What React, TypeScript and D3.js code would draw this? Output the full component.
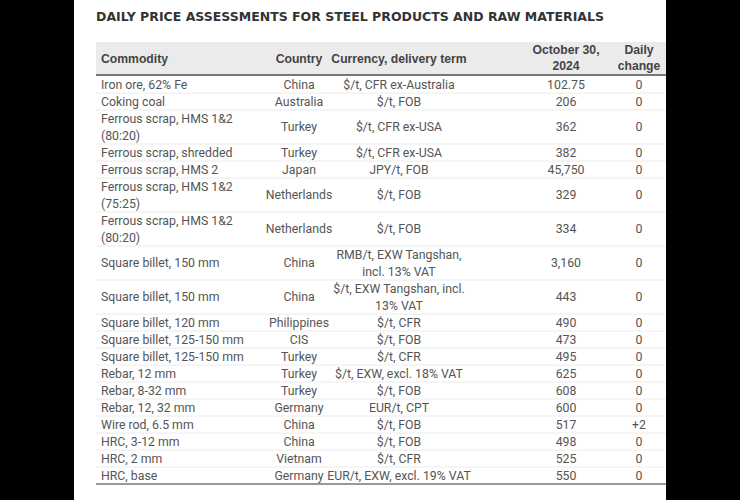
import React from 'react'
import { scaleLinear, sum, cumsum } from 'd3'

const commodities = [
  'Iron ore, 62% Fe', 'Coking coal', 'Ferrous scrap, HMS 1&2\n(80:20)', 'Ferrous scrap, shredded',
  'Ferrous scrap, HMS 2', 'Ferrous scrap, HMS 1&2\n(75:25)', 'Ferrous scrap, HMS 1&2\n(80:20)',
  'Square billet, 150 mm', 'Square billet, 150 mm', 'Square billet, 120 mm', 'Square billet, 125-150 mm',
  'Square billet, 125-150 mm', 'Rebar, 12 mm', 'Rebar, 8-32 mm', 'Rebar, 12, 32 mm', 'Wire rod, 6.5 mm',
  'HRC, 3-12 mm', 'HRC, 2 mm', 'HRC, base',
]
const countries = [
  'China', 'Australia', 'Turkey', 'Turkey', 'Japan', 'Netherlands', 'Netherlands', 'China', 'China',
  'Philippines', 'CIS', 'Turkey', 'Turkey', 'Turkey', 'Germany', 'China', 'China', 'Vietnam', 'Germany',
]
const terms = [
  '$/t, CFR ex-Australia', '$/t, FOB', '$/t, CFR ex-USA', '$/t, CFR ex-USA', 'JPY/t, FOB', '$/t, FOB',
  '$/t, FOB', 'RMB/t, EXW Tangshan,\nincl. 13% VAT', '$/t, EXW Tangshan, incl.\n13% VAT', '$/t, CFR',
  '$/t, FOB', '$/t, CFR', '$/t, EXW, excl. 18% VAT', '$/t, FOB', 'EUR/t, CPT', '$/t, FOB', '$/t, FOB',
  '$/t, CFR', 'EUR/t, EXW, excl. 19% VAT',
]
const prices = [
  '102.75', '206', '362', '382', '45,750', '329', '334', '3,160', '443', '490', '473', '495', '625',
  '608', '600', '517', '498', '525', '550',
]
const changes = ['0', '0', '0', '0', '0', '0', '0', '0', '0', '0', '0', '0', '0', '0', '0', '+2', '0', '0', '0']
const headers = ['Commodity', 'Country', 'Currency, delivery term', 'October 30,\n2024', 'Daily\nchange']
const title = 'DAILY PRICE ASSESSMENTS FOR STEEL PRODUCTS AND RAW MATERIALS'

const W = 740, H = 500
const left = 74, right = 666
const tableTop = 42, headBottom = 76, tableBottom = 484
const font = 'Roboto, "Liberation Sans", sans-serif'
const headFont = '"Liberation Sans", Arial, sans-serif'
const textColor = '#555'

// columns: x position and anchor
const cols = [
  { x: 101, anchor: 'start' },
  { x: 299, anchor: 'middle' },
  { x: 399, anchor: 'middle' },
  { x: 566, anchor: 'middle' },
  { x: 639, anchor: 'middle' },
]

function Cell({ text, x, y, anchor, weight = 'normal', lh = 16.5, color = textColor, size = 12.3, family = font }) {
  const lines = text.split('\n')
  const off = (lines.length - 1) * lh / 2
  return (
    <text x={x} textAnchor={anchor} fontWeight={weight} fontFamily={family} fontSize={size} fill={color}>
      {lines.map((l, i) => (
        <tspan key={i} x={x} y={y - off + i * lh} dy="0.35em">{l}</tspan>
      ))}
    </text>
  )
}

export default function App() {
  const rows = commodities.map((c, i) => ({
    cells: [c, countries[i], terms[i], prices[i], changes[i]],
    units: Math.max(...[c, terms[i]].map(s => s.split('\n').length)),
  }))
  const units = rows.map(r => r.units)
  const ends = Array.from(cumsum(units))
  const y = scaleLinear().domain([0, sum(units)]).range([headBottom, tableBottom])

  return (
    <svg width={W} height={H} style={{ position: 'absolute', left: 0, top: 0 }}>
      <rect width={W} height={H} fill="#000" />
      <rect x={left} width={right - left} height={H} fill="#fff" />
      <text x={96} y={21} fontFamily='"DejaVu Sans", Verdana, sans-serif' fontWeight="bold" fontSize={12.5}
        fill="#333" textLength={508} lengthAdjust="spacingAndGlyphs">{title}</text>
      <rect x={96} y={tableTop} width={right - 96} height={headBottom - tableTop} fill="#ebebeb" />
      {headers.map((h, j) => (
        <Cell key={j} text={h} x={cols[j].x} y={j < 3 ? 59 : 58} anchor={cols[j].anchor}
          weight="bold" lh={16} color="#444" size={12.2} family={headFont} />
      ))}
      {rows.map((r, i) => {
        const y0 = y(ends[i] - r.units), y1 = y(ends[i])
        const cy = (y0 + y1) / 2
        return (
          <g key={i}>
            {i > 0 && <line x1={96} x2={right} y1={y0} y2={y0} stroke="#ececec" strokeWidth={1} />}
            {r.cells.map((t, j) => (
              <Cell key={j} text={t} x={cols[j].x} y={cy} anchor={cols[j].anchor} />
            ))}
          </g>
        )
      })}
      <line x1={96} x2={right} y1={headBottom - 1} y2={headBottom - 1} stroke="#777" strokeWidth={2} />
      <line x1={96} x2={right} y1={tableBottom} y2={tableBottom} stroke="#999" strokeWidth={2} />
    </svg>
  )
}
